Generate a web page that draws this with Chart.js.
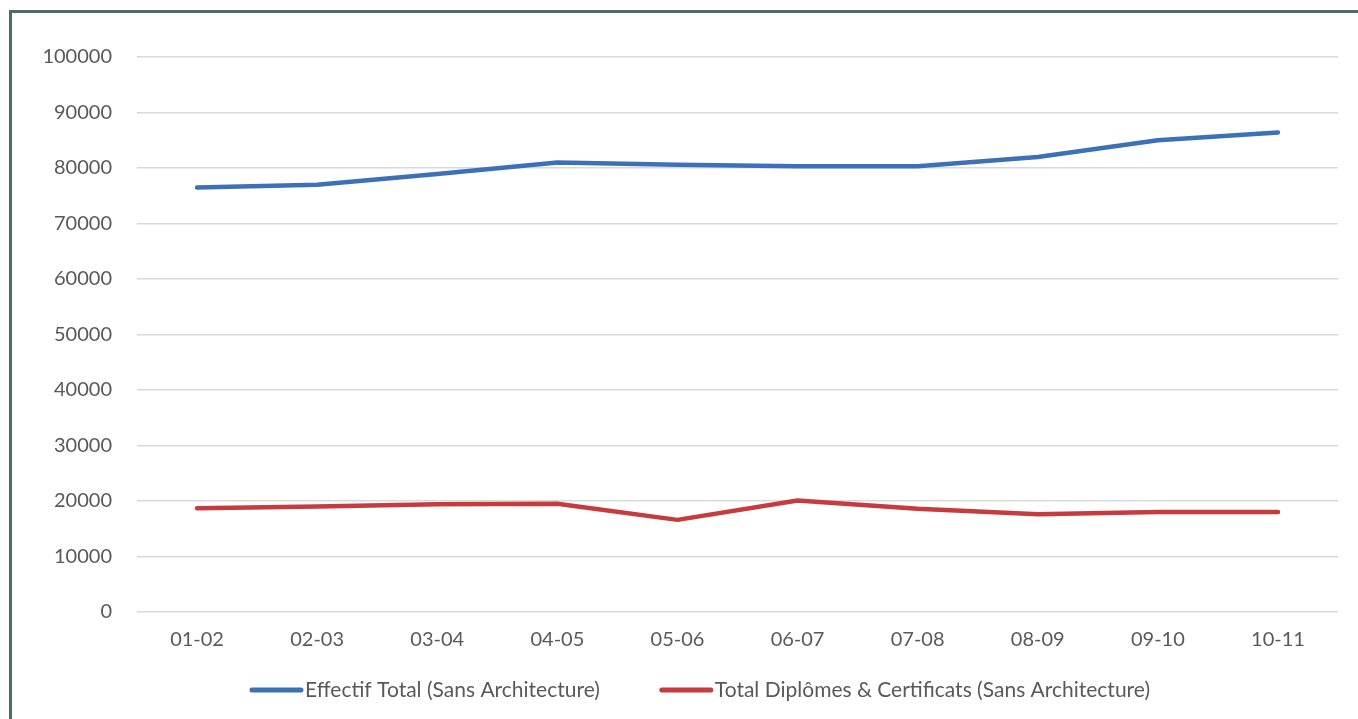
<!DOCTYPE html>
<html>
<head>
<meta charset="utf-8">
<script src="https://cdn.jsdelivr.net/npm/chart.js@4/dist/chart.umd.min.js"></script>
<style>
  html, body { margin: 0; padding: 0; background: #ffffff; }
  body { width: 1358px; height: 719px; overflow: hidden; position: relative; }
  #frame {
    position: absolute; left: 9px; top: 10px; width: 1400px; height: 760px;
    border: 3px solid #4e6c65; box-sizing: border-box;
  }
  #wrap { position: absolute; left: 0; top: 0; width: 1358px; height: 719px; }
</style>
</head>
<body>
<div id="frame"></div>
<div id="wrap"><canvas id="chart" width="1358" height="719"></canvas></div>
<script>
// Academic years
const years = ['01-02', '02-03', '03-04', '04-05', '05-06', '06-07', '07-08', '08-09', '09-10', '10-11'];

// Total enrolment, architecture excluded
const effectifTotal = [76500, 77000, 78900, 81000, 80600, 80300, 80300, 82000, 85000, 86400];

// Diplomas and certificates awarded, architecture excluded
const diplomesCertificats = [18700, 19000, 19400, 19500, 16600, 20100, 18600, 17600, 18000, 18000];

// Value axis
const yTicks = [0, 10000, 20000, 30000, 40000, 50000, 60000, 70000, 80000, 90000, 100000];

const seriesNames = ['Effectif Total (Sans Architecture)', 'Total Diplômes & Certificats (Sans Architecture)'];
const seriesColors = ['#3c71b8', '#c63b3d'];

const FONT = 'Lato, "Open Sans", sans-serif';
const TEXT = '#595959';

// Bottom key: a short line swatch followed by the series name
const seriesKey = {
  id: 'seriesKey',
  afterDraw(chart) {
    const ctx = chart.ctx;
    const swatch = 53, gap = 2, between = 60, y = 690, centre = 700;
    ctx.save();
    ctx.font = '21px ' + FONT;
    const widths = chart.data.datasets.map(d => swatch + gap + ctx.measureText(d.label).width);
    const total = widths.reduce((a, b) => a + b, 0) + between * (widths.length - 1);
    let x = centre - total / 2;
    chart.data.datasets.forEach((d, i) => {
      ctx.strokeStyle = d.borderColor;
      ctx.lineWidth = 5;
      ctx.lineCap = 'round';
      ctx.beginPath();
      ctx.moveTo(x + 2, y);
      ctx.lineTo(x + swatch - 2, y);
      ctx.stroke();
      ctx.fillStyle = TEXT;
      ctx.textBaseline = 'middle';
      ctx.textAlign = 'left';
      ctx.fillText(d.label, x + swatch + gap, y);
      x += widths[i] + between;
    });
    ctx.restore();
  }
};

new Chart(document.getElementById('chart'), {
  type: 'line',
  data: {
    labels: years,
    datasets: [
      { label: seriesNames[0], data: effectifTotal, borderColor: seriesColors[0], backgroundColor: seriesColors[0] },
      { label: seriesNames[1], data: diplomesCertificats, borderColor: seriesColors[1], backgroundColor: seriesColors[1] }
    ]
  },
  options: {
    responsive: false,
    animation: false,
    layout: { padding: { left: 0, right: 20, top: 57, bottom: 0 } },
    elements: {
      line: { borderWidth: 4.5, tension: 0, borderCapStyle: 'round', borderJoinStyle: 'round' },
      point: { radius: 0, hoverRadius: 0 }
    },
    plugins: {
      legend: { display: false },
      tooltip: { enabled: false }
    },
    scales: {
      x: {
        offset: true,
        grid: { display: false, drawTicks: false },
        border: { display: false },
        ticks: { color: TEXT, font: { family: FONT, size: 20 }, padding: 16, maxRotation: 0 },
        afterFit(s) { s.height = 107; }
      },
      y: {
        min: 0,
        max: 100000,
        afterBuildTicks(s) { s.ticks = yTicks.map(v => ({ value: v })); },
        grid: { color: '#d9d9d9', lineWidth: 1.5, drawTicks: false },
        border: { display: false },
        ticks: {
          color: TEXT,
          font: { family: FONT, size: 20 },
          padding: 25,
          callback: v => String(v)
        },
        afterFit(s) { s.width = 137; }
      }
    }
  },
  plugins: [seriesKey]
});
</script>
</body>
</html>
